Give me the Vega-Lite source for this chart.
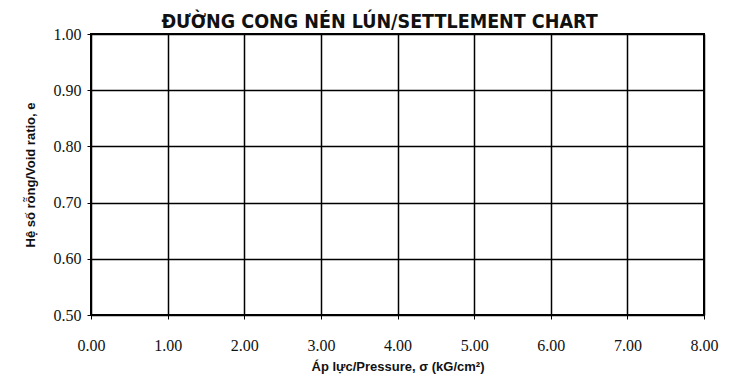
{
  "$schema": "https://vega.github.io/schema/vega-lite/v6.json",
  "autosize": {"type": "none"},
  "width": 613,
  "height": 281,
  "padding": {"left": 91, "top": 34, "right": 30, "bottom": 63},
  "background": "white",
  "title": {
    "text": "ĐƯỜNG CONG NÉN LÚN/SETTLEMENT CHART",
    "font": "DejaVu Sans Condensed",
    "fontSize": 19.5,
    "fontWeight": "bold",
    "color": "#111",
    "anchor": "middle",
    "offset": -6,
    "dx": -18
  },
  "data": {"values": []},
  "mark": {"type": "point", "color": "black"},
  "encoding": {
    "x": {
      "field": "pressure",
      "type": "quantitative",
      "scale": {"domain": [0, 8], "nice": false, "zero": false},
      "axis": {
        "title": "Áp lực/Pressure, σ (kG/cm²)",
        "values": [0, 1, 2, 3, 4, 5, 6, 7, 8],
        "format": ".2f",
        "labelPadding": 18,
        "titlePadding": 7
      }
    },
    "y": {
      "field": "void_ratio",
      "type": "quantitative",
      "scale": {"domain": [0.5, 1.0], "nice": false, "zero": false},
      "axis": {
        "title": "Hệ số rỗng/Void ratio, e",
        "values": [0.5, 0.6, 0.7, 0.8, 0.9, 1.0],
        "format": ".2f",
        "labelPadding": 6,
        "titlePadding": 16
      }
    }
  },
  "config": {
    "view": {"stroke": "black", "strokeWidth": 2},
    "axis": {
      "grid": true,
      "gridColor": "black",
      "gridOpacity": 1,
      "gridWidth": 1.5,
      "domain": false,
      "labelFlush": false,
      "tickColor": "black",
      "tickSize": 4,
      "tickWidth": 1,
      "labelFont": "Liberation Serif",
      "labelFontSize": 16,
      "labelColor": "#111",
      "titleFont": "Liberation Sans",
      "titleFontSize": 13,
      "titleFontWeight": "bold",
      "titleColor": "#111"
    }
  }
}
